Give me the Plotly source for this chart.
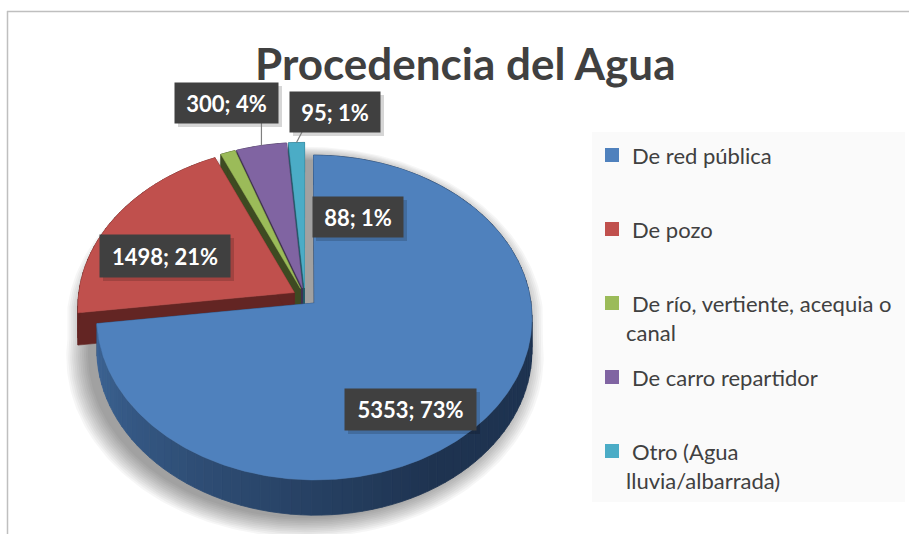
import numpy as np
import plotly.graph_objects as go

# ---- data ----
categories = [
    "De red pública",
    "De pozo",
    "De río, vertiente, acequia o canal",
    "De carro repartidor",
    "Otro (Agua lluvia/albarrada)",
]
values = [5353, 1498, 88, 300, 95]
percent_labels = ["73%", "21%", "1%", "4%", "1%"]
legend_lines = [
    ["De red pública"],
    ["De pozo"],
    ["De río, vertiente, acequia o", "canal"],
    ["De carro repartidor"],
    ["Otro (Agua", "lluvia/albarrada)"],
]

# ---- styling ----
top_colors = ["#4F81BD", "#C0504D", "#9BBB59", "#8064A2", "#4BACC6"]
wall_colors = ["#1E3350", "#632523", "#3E4A22", "#3F3151", "#215968"]
blue_wall_light = "#3D6596"
W, H = 909, 534
FONT = "Lato"
TEXT = "#404040"

# 3-D pie projection (pixel space)
CX, CY = 305.0, 297.0      # centre of the pie top
A, B = 216.0, 160.0        # horizontal / vertical radii
K = 0.089                  # perspective factor
DEPTH = 32.0               # thickness of the pie
EXPLODE = 0.057            # radial offset of every slice


def project(px, pz, h=0.0):
    s = 1.0 + K * pz
    return CX + A * px / s, CY - B * pz / s + DEPTH * h / s


def hex_to_rgb(c):
    c = c.lstrip("#")
    return np.array([int(c[i:i + 2], 16) for i in (0, 2, 4)], dtype=float)


def mix(c1, c2, t):
    r = hex_to_rgb(c1) * (1 - t) + hex_to_rgb(c2) * t
    return "rgb(%d,%d,%d)" % tuple(np.round(r).astype(int))


total = float(sum(values))
cum = np.concatenate([[0.0], np.cumsum(values)]) / total * 360.0
starts, ends = cum[:-1], cum[1:]

fig = go.Figure()


def poly(xs, ys, color, line_color=None, lw=0.6):
    fig.add_trace(go.Scatter(
        x=list(xs), y=list(ys), mode="lines", fill="toself",
        fillcolor=color, line=dict(color=line_color or color, width=lw),
        hoverinfo="skip", showlegend=False))


# ---- soft shadow under the whole pie ----
def silhouette(grow):
    th = np.radians(np.linspace(-90, 270, 361))
    xs, ys = [], []
    for t in th:
        px, pz = grow * np.sin(t), grow * np.cos(t)
        h = 0.0 if np.cos(t) >= 0 else 1.0
        x, y = project(px, pz, h)
        xs.append(x)
        ys.append(y)
    return np.array(xs), np.array(ys)


for i in range(12):
    g = 1.10 - i * 0.009
    xs, ys = silhouette(g)
    poly(xs, ys + 10, "rgba(0,0,0,0.034)", "rgba(0,0,0,0)", 0)


# ---- slices, back to front ----
def slice_point(r, theta_deg, mid_deg, h=0.0):
    t, m = np.radians(theta_deg), np.radians(mid_deg)
    px = r * np.sin(t) + EXPLODE * np.sin(m)
    pz = r * np.cos(t) + EXPLODE * np.cos(m)
    return project(px, pz, h)


for idx in [4, 3, 2, 1, 0]:
    a0, a1 = starts[idx], ends[idx]
    mid = 0.5 * (a0 + a1)
    # radial walls
    for edge in (a0, a1):
        p1 = slice_point(0, edge, mid, 0)
        p2 = slice_point(1, edge, mid, 0)
        p3 = slice_point(1, edge, mid, 1)
        p4 = slice_point(0, edge, mid, 1)
        poly([p1[0], p2[0], p3[0], p4[0], p1[0]],
             [p1[1], p2[1], p3[1], p4[1], p1[1]], wall_colors[idx])
    # outer wall, shaded by angle
    n_seg = max(2, int(np.ceil((a1 - a0) / 2.5)))
    edges = np.linspace(a0, a1, n_seg + 1)
    for s0, s1 in zip(edges[:-1], edges[1:]):
        arc = np.linspace(s0, s1, 4)
        top = [slice_point(1, t, mid, 0) for t in arc]
        bot = [slice_point(1, t, mid, 1) for t in arc[::-1]]
        pts = top + bot + [top[0]]
        if idx == 0:
            tt = np.clip((0.5 * (s0 + s1) - 150.0) / (263.0 - 150.0), 0, 1)
            col = mix(wall_colors[0], blue_wall_light, tt)
        else:
            col = wall_colors[idx]
        poly([p[0] for p in pts], [p[1] for p in pts], col, lw=0.8)
    # top face
    arc = np.linspace(a0, a1, max(6, int((a1 - a0) * 2)))
    apex = slice_point(0, a0, mid, 0)
    pts = [apex] + [slice_point(1, t, mid, 0) for t in arc] + [apex]
    poly([p[0] for p in pts], [p[1] for p in pts], top_colors[idx], lw=0.5)

# ---- data labels ----
label_centers = [(410.5, 409.5), (165.0, 256.0), (358.0, 217.0),
                 (226.5, 103.0), (335.0, 112.0)]
label_sizes = [(131, 41), (130, 42), (90, 40), (103, 40), (90, 40)]
PAD = 3
annotations = []
shapes = []
for idx, (v, p) in enumerate(zip(values, percent_labels)):
    x, y = label_centers[idx]
    bw, bh = label_sizes[idx]
    # drop shadow behind the label box
    shapes.append(dict(type="rect", xref="x", yref="y",
                       x0=x - bw / 2 + 3, x1=x + bw / 2 + 4,
                       y0=y - bh / 2 + 3, y1=y + bh / 2 + 4,
                       fillcolor="rgba(0,0,0,0.16)", line=dict(width=0),
                       layer="above"))
    annotations.append(dict(
        x=x, y=y, xref="x", yref="y", text=f"<b>{v}; {p}</b>",
        showarrow=False, width=bw - 2 * PAD, height=bh - 2 * PAD,
        font=dict(family=FONT, size=22, color="white"),
        bgcolor="#404040", borderpad=PAD))

# leader lines for the two small top slices
leaders = {3: 123.0, 4: (302.0, 132.0)}
for idx, start in leaders.items():
    mid = 0.5 * (starts[idx] + ends[idx])
    ex, ey = slice_point(1, mid, mid, 0)
    bx, by = (ex, start) if idx == 3 else start
    shapes.append(dict(type="line", xref="x", yref="y", x0=bx, y0=by,
                       x1=ex, y1=ey, line=dict(color="#7F7F7F", width=1.2)))

# ---- chart frame ----
shapes.append(dict(type="line", xref="x", yref="y", x0=7, y0=11.5, x1=W,
                   y1=11.5, line=dict(color="#BFBFBF", width=1.5)))
shapes.append(dict(type="line", xref="x", yref="y", x0=7.5, y0=11, x1=7.5,
                   y1=H, line=dict(color="#BFBFBF", width=1.5)))

# ---- legend ----
shapes.append(dict(type="rect", xref="x", yref="y", x0=592, y0=132, x1=905,
                   y1=502, fillcolor="#FAFAFA", line=dict(width=0),
                   layer="below"))
legend_y = [155, 229, 303, 377, 451]
LINE_H = 29
for idx, lines in enumerate(legend_lines):
    y = legend_y[idx]
    shapes.append(dict(type="rect", xref="x", yref="y", x0=605, x1=619,
                       y0=y - 7, y1=y + 7, fillcolor=top_colors[idx],
                       line=dict(width=0)))
    for j, line in enumerate(lines):
        annotations.append(dict(
            x=630 if j == 0 else 624, y=y + j * LINE_H, xref="x", yref="y",
            text=line, showarrow=False, xanchor="left", yanchor="middle",
            font=dict(family=FONT, size=22, color=TEXT)))

# ---- title ----
annotations.append(dict(
    x=465, y=63, xref="x", yref="y", text="<b>Procedencia del Agua</b>",
    showarrow=False, xanchor="center", yanchor="middle",
    font=dict(family=FONT, size=44, color=TEXT)))

fig.update_layout(
    width=W, height=H, autosize=False,
    margin=dict(l=0, r=0, t=0, b=0),
    paper_bgcolor="white", plot_bgcolor="white",
    xaxis=dict(range=[0, W], visible=False, fixedrange=True),
    yaxis=dict(range=[H, 0], visible=False, fixedrange=True),
    showlegend=False,
    shapes=shapes,
    annotations=annotations,
)

fig.write_html("out.html", config={"displayModeBar": False})
